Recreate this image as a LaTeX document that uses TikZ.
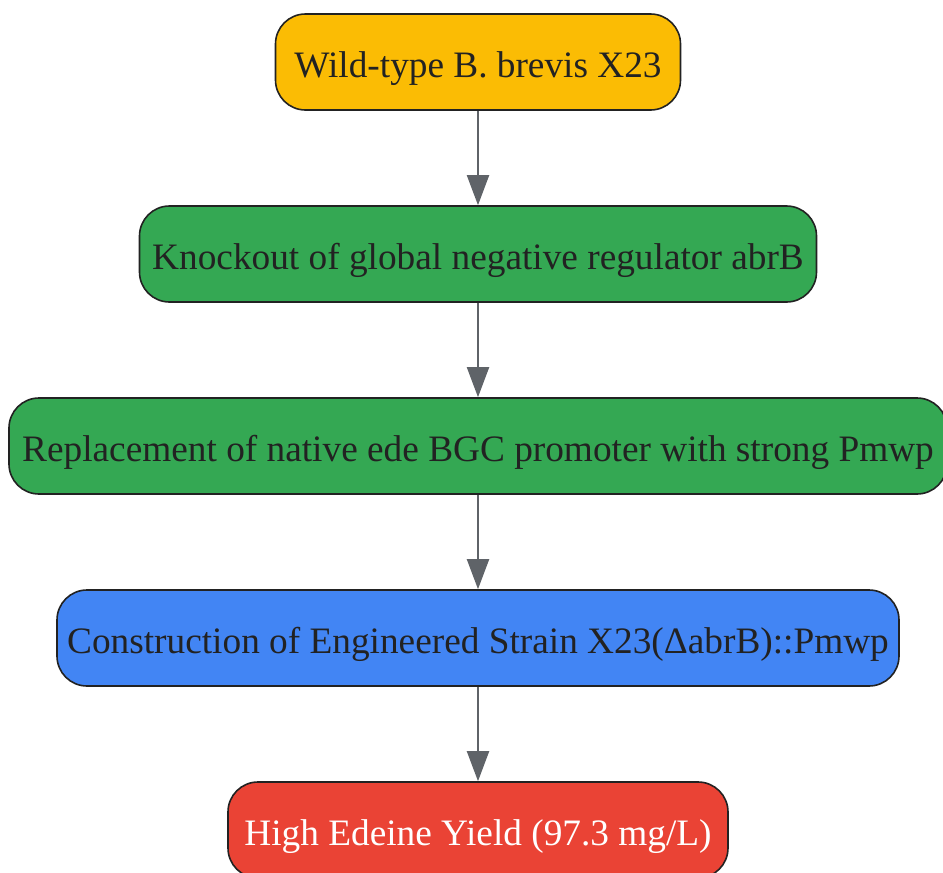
\documentclass[tikz,border=0pt]{standalone}
\usepackage{fontspec}
\setmainfont{Liberation Serif}
\usepackage{xcolor}
\usetikzlibrary{arrows.meta}
\definecolor{border}{HTML}{222222}
\definecolor{ink}{HTML}{222222}
\definecolor{edge}{HTML}{5F6368}
\definecolor{gold}{HTML}{FBBC04}
\definecolor{green}{HTML}{34A853}
\definecolor{blue}{HTML}{4285F4}
\definecolor{red}{HTML}{EA4335}
\tikzset{
  box/.style={rounded corners=30pt, draw=border, line width=1.6pt,
    minimum height=96pt, inner sep=0pt, text=ink,
    text height=36pt, text depth=5pt,
    font=\fontsize{37.3}{44}\selectfont},
  flow/.style={-{Triangle[length=30pt,width=22pt]}, line width=2pt, draw=edge, color=edge}
}
\begin{document}
\begin{tikzpicture}[x=1pt,y=1pt]
  \useasboundingbox (0,0) rectangle (943,-873);

  \node[box, fill=gold, minimum width=405pt] (wild) at (478,-62) {Wild-type B. brevis X23};
  \node[box, fill=green, minimum width=677pt] (ko) at (478,-254) {Knockout of global negative regulator abrB};
  \node[box, fill=green, minimum width=938pt] (prom) at (478,-446) {Replacement of native ede BGC promoter with strong Pmwp};
  \node[box, fill=blue, minimum width=842pt] (eng) at (478,-638) {Construction of Engineered Strain X23(ΔabrB)::Pmwp};
  \node[box, fill=red, minimum width=500pt, text=white] (yield) at (478,-830) {High Edeine Yield (97.3 mg/L)};

  \draw[flow] (wild) -- (ko);
  \draw[flow] (ko) -- (prom);
  \draw[flow] (prom) -- (eng);
  \draw[flow] (eng) -- (yield);
\end{tikzpicture}
\end{document}
